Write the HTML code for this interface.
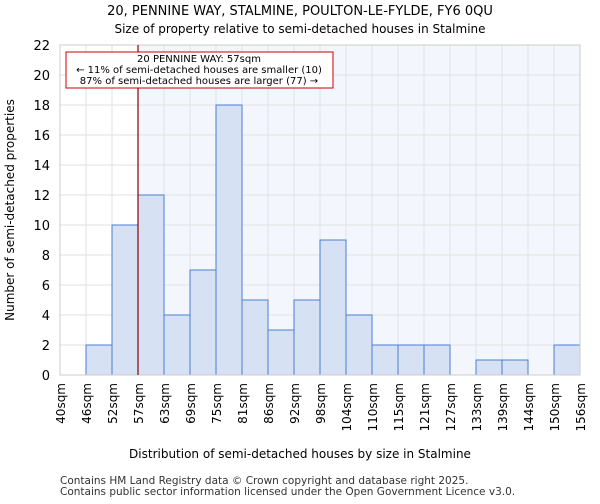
<!DOCTYPE html>
<html><head><meta charset="utf-8"><style>
body{margin:0;background:#fff;font-family:"DejaVu Sans","Liberation Sans",sans-serif}
</style></head><body>
<svg id="c" width="600" height="500" xmlns="http://www.w3.org/2000/svg" font-family="DejaVu Sans, Liberation Sans, sans-serif">
<text x="300" y="15" text-anchor="middle" font-size="13">20, PENNINE WAY, STALMINE, POULTON-LE-FYLDE, FY6 0QU</text>
<text x="300" y="33" text-anchor="middle" font-size="12">Size of property relative to semi-detached houses in Stalmine</text>
<g id="plot"></g>
<text x="300" y="458" text-anchor="middle" font-size="12">Distribution of semi-detached houses by size in Stalmine</text>
<text transform="translate(14,210) rotate(-90)" text-anchor="middle" font-size="12">Number of semi-detached properties</text>
<text x="60" y="484" font-size="10.5" fill="#333">Contains HM Land Registry data © Crown copyright and database right 2025.</text>
<text x="60" y="495" font-size="10.5" fill="#333">Contains public sector information licensed under the Open Government Licence v3.0.</text>
</svg>
<script>
const binLabels=["40sqm","46sqm","52sqm","57sqm","63sqm","69sqm","75sqm","81sqm","86sqm","92sqm","98sqm","104sqm","110sqm","115sqm","121sqm","127sqm","133sqm","139sqm","144sqm","150sqm","156sqm"];
const counts=[0,2,10,12,4,7,18,5,3,5,9,4,2,2,2,0,1,1,0,2];
const yTicks=[0,2,4,6,8,10,12,14,16,18,20,22];
const markerBin=3;
const L=60,R=580,T=45,B=375,YMAX=22;
const n=counts.length,bw=(R-L)/n;
const x=i=>L+i*bw, y=v=>B-(v/YMAX)*(B-T);
const NS="http://www.w3.org/2000/svg",g=document.getElementById('plot');
function mk(t,a){const e=document.createElementNS(NS,t);for(const k in a)e.setAttribute(k,a[k]);g.appendChild(e);return e;}
const mx=x(markerBin);
const sh=mk('rect',{x:mx,y:T,width:R-mx,height:B-T,fill:'#f3f6fd'});


yTicks.forEach(v=>{const l=mk('line',{x1:L,x2:R,y1:y(v),y2:y(v),stroke:'#e2e2e2'});


const t=mk('text',{x:L-10,y:y(v)+5,'text-anchor':'end','font-size':13});t.textContent=v;

});
binLabels.forEach((s,i)=>{const l=mk('line',{x1:x(i),x2:x(i),y1:T,y2:B,stroke:'#e2e2e2'});


const t=mk('text',{transform:`translate(${x(i)+5},${B+8}) rotate(-90)`,'text-anchor':'end','font-size':12});t.textContent=s;

});
counts.forEach((c,i)=>{if(!c)return;const r=mk('rect',{x:x(i),y:y(c),width:bw,height:B-y(c),fill:'#d6e1f4',stroke:'#4a80d4','stroke-width':1});

});
const ax=mk('rect',{x:L,y:T,width:R-L,height:B-T,fill:'none',stroke:'#ccc'});


const ml=mk('line',{x1:mx,x2:mx,y1:T,y2:B,stroke:'#8b0000','stroke-width':1.2});


const bx=mk('rect',{x:66,y:52,width:267,height:36,fill:'#fff',stroke:'#c00'});


["20 PENNINE WAY: 57sqm","← 11% of semi-detached houses are smaller (10)","87% of semi-detached houses are larger (77) →"].forEach((s,i)=>{
const t=mk('text',{x:199,y:62+i*11,'text-anchor':'middle','font-size':10});t.textContent=s;

});
</script>
</body></html>
